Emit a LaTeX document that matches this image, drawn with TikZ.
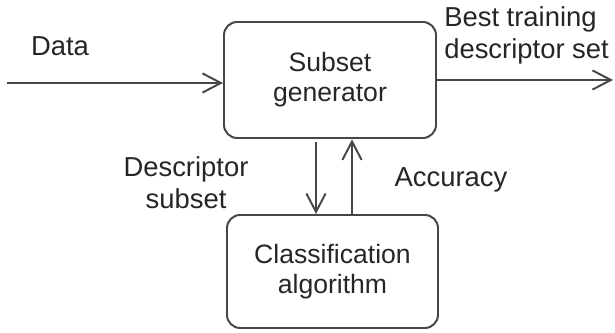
\documentclass[tikz,border=0pt]{standalone}
\usepackage{fontspec}
\setmainfont{Liberation Sans}
\usepackage{xcolor}
\usepackage{tikz}
\usetikzlibrary{arrows.meta,positioning}

\definecolor{linegray}{HTML}{474747}
\definecolor{textgray}{HTML}{262626}

\begin{document}
\begin{tikzpicture}[font=\fontsize{18.9}{21.3}\selectfont,text=textgray,
    blockbox/.style={draw=linegray,line width=1.4pt,rounded corners=0.33cm,align=center,inner sep=0pt},
    flow/.style={draw=linegray,line width=1.4pt,-{Straight Barb[length=4.6mm,width=4.8mm,line width=1.4pt]}},
    caption/.style={align=center,inner sep=0pt,font=\fontsize{19.5}{22.6}\selectfont}]
	\useasboundingbox (0,0) rectangle (15.375,8.325);
	\node[blockbox,minimum width=5.3cm,minimum height=2.9cm] (gen) at (8.25,6.325) {Subset\\generator};
	\node[blockbox,minimum width=5.275cm,minimum height=2.825cm] (cls) at (8.3125,1.5375) {Classification\\algorithm};
	\coordinate (datain) at (0.175,6.25);
	\coordinate (bestout) at (15.325,6.325);
	\draw[flow] (datain) -- (datain -| gen.west);
	\draw[flow] (gen.east |- bestout) -- (bestout);
	\draw[flow] ([xshift=-3.5mm,yshift=-0.8mm]gen.south) -- ([xshift=-3.5mm]gen.south |- cls.north);
	\draw[flow] ([xshift=5.5mm]gen.south |- cls.north) -- ([xshift=5.5mm,yshift=-0.1mm]gen.south);
	\node[caption] (datalabel) at (1.5,7.1625) {Data};
	\node[caption,align=left,anchor=west] (bestlabel) at (11.1,7.435) {Best training\\descriptor set};
	\node[caption] (subsetlabel) at (4.65,3.76) {Descriptor\\subset};
	\node[caption] (acclabel) at (11.275,3.8175) {Accuracy};
\end{tikzpicture}
\end{document}
